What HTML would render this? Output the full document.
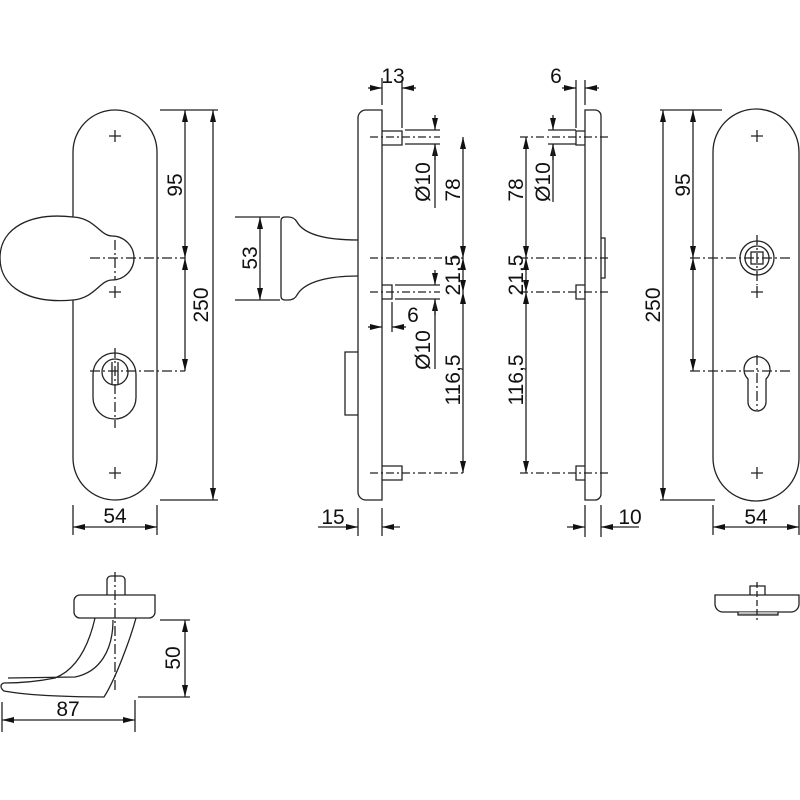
<!DOCTYPE html>
<html><head><meta charset="utf-8"><style>
html,body{margin:0;padding:0;background:#fff}
svg{display:block}
text{font-family:"Liberation Sans",sans-serif;font-size:21px;fill:#111}
</style></head><body>
<svg width="800" height="800" viewBox="0 0 800 800" xmlns="http://www.w3.org/2000/svg">
<defs>
<marker id="a" viewBox="0 0 12 6" refX="12" refY="3" markerWidth="12" markerHeight="6" orient="auto-start-reverse" markerUnits="userSpaceOnUse"><path d="M0,0 L12,3 L0,6 z" fill="#111"/></marker>
</defs>
<g fill="none" stroke="#222" stroke-width="1.3">
<!-- LEFT PLATE -->
<path d="M73,217 L73,152 A42,42 0 0 1 157,152 L157,458 A42,42 0 0 1 73,458 L73,300"/>
<path d="M73,217 C30,212 0,228 0,258 C0,288 30,304 73,300 C95,298 100,280 112,280 A22,22 0 0 0 112,236 C100,236 95,218 73,217 Z" fill="#fff"/>
<path d="M109,136h12M115,130v12M109,292h12M115,286v12M109,473h12M115,467v12"/>
<path d="M90,258h95M115,240v40" stroke-dasharray="10,3,2,3"/>
<rect x="93" y="353" width="43" height="66" rx="21.5"/>
<circle cx="115" cy="372" r="13"/>
<path d="M112,362v22M118,362v22"/>
<path d="M90,371h95M115,348v80" stroke-dasharray="10,3,2,3"/>
<!-- left dims -->
<path d="M160,110h58M160,500h58"/>
<path d="M185,110V258" marker-start="url(#a)" marker-end="url(#a)"/>
<path d="M185,258V371" marker-start="url(#a)" marker-end="url(#a)"/>
<path d="M213,110V500" marker-start="url(#a)" marker-end="url(#a)"/>
<path d="M73,505v30M157,505v30"/>
<path d="M73,527H157" marker-start="url(#a)" marker-end="url(#a)"/>
<!-- MIDDLE SIDE VIEW -->
<path d="M382,110 H366 A8,8 0 0 0 358,118 V492 A8,8 0 0 0 366,500 H382 Z"/>
<path d="M382,131h20v14h-20M382,285h10v14h-10M382,466h20v14h-20"/>
<path d="M358,240 C330,240 305,236 297,222 C295,218 292,217 288,217 L285,217 Q281,217 281,221 L281,296 Q281,300 285,300 L288,300 C292,300 295,299 297,295 C305,281 330,276 358,276"/>
<path d="M358,352h-13v63h13"/>
<path d="M370,137h70M370,258h95M370,292h70M370,473h95" stroke-dasharray="8,3,2,3"/>
<path d="M382,105V78M402,128V80M382,508v28M358,508v28"/>
<path d="M368,88L382,88" marker-end="url(#a)"/>
<path d="M416,88L402,88" marker-end="url(#a)"/>
<path d="M340,527L358,527" marker-end="url(#a)"/><path d="M318,527h22"/>
<path d="M400,527L382,527" marker-end="url(#a)"/>
<path d="M405,130h35M405,144h35M435,115V130" marker-end="url(#a)"/>
<path d="M435,160V144" marker-end="url(#a)"/><path d="M435,144v64"/>
<path d="M395,285h45M395,299h45"/>
<path d="M435,270V285" marker-end="url(#a)"/>
<path d="M435,315V299" marker-end="url(#a)"/><path d="M435,299v70"/>
<path d="M392,302v30"/>
<path d="M368,327L382,327" marker-end="url(#a)"/>
<path d="M406,327L392,327" marker-end="url(#a)"/>
<path d="M463,137V258" marker-start="url(#a)" marker-end="url(#a)"/>
<path d="M463,258V292" marker-start="url(#a)" marker-end="url(#a)"/>
<path d="M463,292V473" marker-start="url(#a)" marker-end="url(#a)"/>
<path d="M235,217h45M235,300h45"/>
<path d="M260,217V300" marker-start="url(#a)" marker-end="url(#a)"/>
<!-- RIGHT SIDE VIEW -->
<path d="M585,110 H595 A6,6 0 0 1 601,116 V494 A6,6 0 0 1 595,500 H585 Z"/>
<path d="M585,131h-9v14h9M585,285h-9v14h9M585,466h-9v14h9"/>
<path d="M601,238h4v40h-4"/>
<path d="M520,137h88M520,258h88M520,292h88M520,473h88" stroke-dasharray="8,3,2,3"/>
<path d="M576,128V80M585,105V80"/>
<path d="M562,88L576,88" marker-end="url(#a)"/>
<path d="M599,88L585,88" marker-end="url(#a)"/>
<path d="M548,130h28M548,144h28M553,115V130" marker-end="url(#a)"/>
<path d="M553,160V144" marker-end="url(#a)"/><path d="M553,144v58"/>
<path d="M526,137V258" marker-start="url(#a)" marker-end="url(#a)"/>
<path d="M526,258V292" marker-start="url(#a)" marker-end="url(#a)"/>
<path d="M526,292V473" marker-start="url(#a)" marker-end="url(#a)"/>
<path d="M585,505v32M601,505v32"/>
<path d="M567,527L585,527" marker-end="url(#a)"/>
<path d="M619,527L601,527" marker-end="url(#a)"/><path d="M619,527h20"/>
<!-- RIGHT PLATE -->
<path d="M713,152 A43,43 0 0 1 799,152 L799,458 A43,43 0 0 1 713,458 Z"/>
<path d="M751,136h12M757,130v12M751,292h12M757,286v12M751,473h12M757,467v12"/>
<circle cx="757" cy="258" r="17"/><circle cx="757" cy="258" r="12"/><rect x="751" y="252" width="12" height="12"/>
<path d="M690,258h100M757,235v50M690,371h100M757,355v55" stroke-dasharray="10,3,2,3"/>
<path d="M748,379 A13,13 0 1 1 766,379 L766,402 A9,9 0 0 1 748,402 Z"/>
<path d="M660,110h62M660,500h55"/>
<path d="M663,110V500" marker-start="url(#a)" marker-end="url(#a)"/>
<path d="M693,110V258" marker-start="url(#a)" marker-end="url(#a)"/>
<path d="M693,258V371" marker-start="url(#a)" marker-end="url(#a)"/>
<path d="M713,505v30M799,505v30"/>
<path d="M713,527H799" marker-start="url(#a)" marker-end="url(#a)"/>
<!-- BOTTOM LEFT LEVER -->
<path d="M107,595V580a4,4 0 0 1 4,-4h10a4,4 0 0 1 4,4V595"/>
<path d="M80,595H155V612A6,6 0 0 1 149,618H80A6,6 0 0 1 74,612V601A6,6 0 0 1 80,595Z"/>
<path d="M95,618 C90,640 80,668 55,678 C30,683 10,683 4,683 C0,684 0,688 4,691 C30,696 80,697 104,697 C115,680 130,640 136,618"/>
<path d="M113,620 C113,650 100,672 75,677 L8,678"/>
<path d="M115,572V690" stroke-dasharray="10,3,2,3"/>
<path d="M160,620h30M138,697h52"/>
<path d="M185,620V697" marker-start="url(#a)" marker-end="url(#a)"/>
<path d="M2,702v30M135,700v32"/>
<path d="M2,720H135" marker-start="url(#a)" marker-end="url(#a)"/>
<!-- BOTTOM RIGHT -->
<path d="M750,595V586h15V595"/>
<path d="M715,595H799V604A8,8 0 0 1 791,612H723A8,8 0 0 1 715,604Z"/>
<path d="M738,612v3h40v-3" fill="#bbb"/>
<path d="M757,582V620" stroke-dasharray="6,3"/>
</g>
<g>
<text transform="translate(182,185) rotate(-90)" text-anchor="middle">95</text>
<text transform="translate(208,305) rotate(-90)" text-anchor="middle">250</text>
<text x="115" y="523" text-anchor="middle">54</text>
<text x="393" y="83" text-anchor="middle">13</text>
<text transform="translate(430,182) rotate(-90)" text-anchor="middle">Ø10</text>
<text transform="translate(460,190) rotate(-90)" text-anchor="middle">78</text>
<text transform="translate(460,275) rotate(-90)" text-anchor="middle">21,5</text>
<text transform="translate(430,350) rotate(-90)" text-anchor="middle">Ø10</text>
<text transform="translate(460,380) rotate(-90)" text-anchor="middle">116,5</text>
<text x="413" y="322" text-anchor="middle">6</text>
<text transform="translate(257,258) rotate(-90)" text-anchor="middle">53</text>
<text x="333" y="524" text-anchor="middle">15</text>
<text x="556" y="83" text-anchor="middle">6</text>
<text transform="translate(550,182) rotate(-90)" text-anchor="middle">Ø10</text>
<text transform="translate(523,190) rotate(-90)" text-anchor="middle">78</text>
<text transform="translate(523,275) rotate(-90)" text-anchor="middle">21,5</text>
<text transform="translate(523,380) rotate(-90)" text-anchor="middle">116,5</text>
<text x="630" y="524" text-anchor="middle">10</text>
<text transform="translate(690,185) rotate(-90)" text-anchor="middle">95</text>
<text transform="translate(660,305) rotate(-90)" text-anchor="middle">250</text>
<text x="756" y="524" text-anchor="middle">54</text>
<text transform="translate(180,658) rotate(-90)" text-anchor="middle">50</text>
<text x="68" y="716" text-anchor="middle">87</text>
</g>
</svg>
</body></html>
